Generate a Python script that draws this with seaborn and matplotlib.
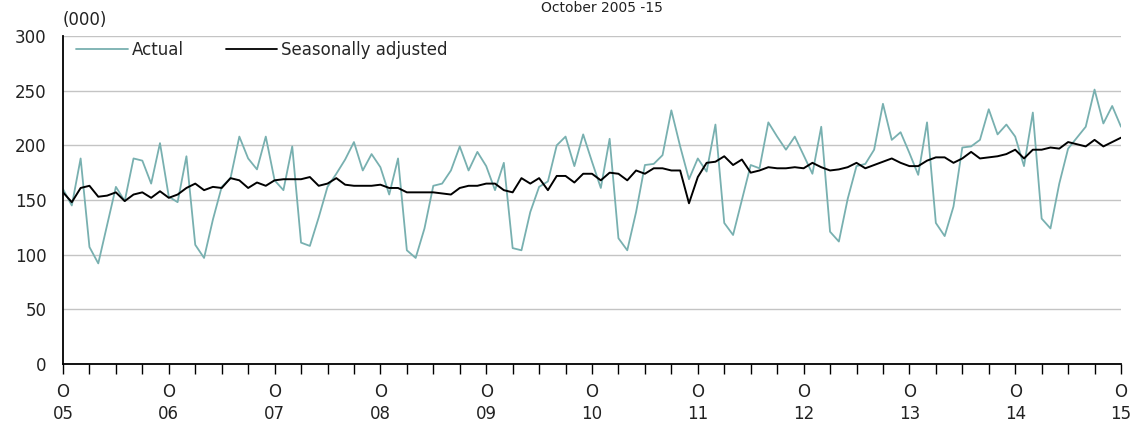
import matplotlib
matplotlib.use("Agg")
import matplotlib.pyplot as plt
import numpy as np
import pandas as pd
import seaborn as sns

# ---- data (thousands), monthly Oct 2005 .. Oct 2015 ----
actual = [160, 145, 188, 107, 92, 127, 162, 149, 188, 186, 165, 202,
          153, 148, 190, 109, 97, 132, 162, 170, 208, 188, 178, 208,
          168, 159, 199, 111, 108, 134, 162, 174, 187, 203, 177, 192,
          180, 155, 188, 104, 97, 124, 163, 165, 177, 199, 177, 194,
          181, 159, 184, 106, 104, 139, 162, 167, 200, 208, 181, 210,
          185, 161, 206, 115, 104, 139, 182, 183, 191, 232, 199, 169,
          188, 176, 219, 129, 118, 150, 182, 179, 221, 208, 196, 208,
          191, 174, 217, 121, 112, 151, 181, 183, 196, 238, 205, 212,
          193, 173, 221, 129, 117, 144, 198, 199, 205, 233, 210, 219,
          208, 181, 230, 133, 124, 165, 197, 207, 217, 251, 220, 236,
          217]
seasonally_adjusted = [157, 148, 161, 163, 153, 154, 157, 149, 155, 157, 152, 158,
                       152, 155, 161, 165, 159, 162, 161, 170, 168, 161, 166, 163,
                       168, 169, 169, 169, 171, 163, 165, 170, 164, 163, 163, 163,
                       164, 161, 161, 157, 157, 157, 157, 156, 155, 161, 163, 163,
                       165, 165, 159, 157, 170, 165, 170, 159, 172, 172, 166, 174,
                       174, 168, 175, 174, 168, 177, 174, 179, 179, 177, 177, 147,
                       171, 184, 185, 190, 182, 187, 175, 177, 180, 179, 179, 180,
                       179, 184, 180, 177, 178, 180, 184, 179, 182, 185, 188, 184,
                       181, 181, 186, 189, 189, 184, 188, 194, 188, 189, 190, 192,
                       196, 188, 196, 196, 198, 197, 203, 201, 199, 205, 199, 203,
                       207]
series_names = ["Actual", "Seasonally adjusted"]
year_labels = ["05", "06", "07", "08", "09", "10", "11", "12", "13", "14", "15"]
month_initial = "O"

months = list(range(len(actual)))
df = pd.DataFrame({
    "month": months + months,
    "value": actual + seasonally_adjusted,
    "series": [series_names[0]] * len(actual) + [series_names[1]] * len(seasonally_adjusted),
})

sns.set_theme(style="white")
plt.rcParams["font.family"] = ["DejaVu Sans"]

FS = 12
W, H = 1137, 423
fig = plt.figure(figsize=(W / 100, H / 100), dpi=100)
ax = fig.add_axes([63 / W, 59 / H, 1058 / W, 328 / H])

palette = {series_names[0]: "#78b0b0", series_names[1]: "#000000"}
sns.lineplot(data=df, x="month", y="value", hue="series", hue_order=series_names,
             palette=palette, ax=ax, linewidth=1.3, estimator=None)
ax.get_lines()[1].set_linewidth(1.4)

ax.set_xlim(0, len(actual) - 1)
ax.set_ylim(0, 300)
ax.set_xlabel("")
ax.set_ylabel("")

ax.set_xticks(range(0, len(actual), 12))
ax.set_xticklabels([f"{month_initial}\n{y}" for y in year_labels], fontsize=FS, color="#222222")
ax.set_xticks(range(0, len(actual), 3), minor=True)
for lab in ax.get_xticklabels():
    lab.set_linespacing(1.25)
ax.tick_params(axis="x", which="both", direction="out", length=7, width=1,
               color="black", pad=7, bottom=True)
ax.set_yticks(range(0, 301, 50))
ax.tick_params(axis="y", length=0, pad=12, labelsize=FS, labelcolor="#222222")

ax.yaxis.grid(True, color="#c4c4c4", linewidth=1)
ax.xaxis.grid(False)
ax.set_axisbelow(True)
for s in ("top", "right"):
    ax.spines[s].set_visible(False)
for s in ("left", "bottom"):
    ax.spines[s].set_color("black")
    ax.spines[s].set_linewidth(1.3)

handles, labels = ax.get_legend_handles_labels()
ax.legend(handles, labels, loc="upper left", bbox_to_anchor=(13 / 1058, 1 - 5 / 328),
          ncol=2, frameon=False, fontsize=FS, handlelength=3.1, handletextpad=0.25,
          columnspacing=2.5, borderpad=0, borderaxespad=0)

fig.text(63 / W, 1 - 20 / H, "(000)", ha="left", va="center", fontsize=FS, color="#222222")
fig.text(602 / W, 1 - 1 / H, "October 2005 -15", ha="center", va="top",
         fontsize=10, color="#222222")

fig.savefig("out.png", dpi=100)
